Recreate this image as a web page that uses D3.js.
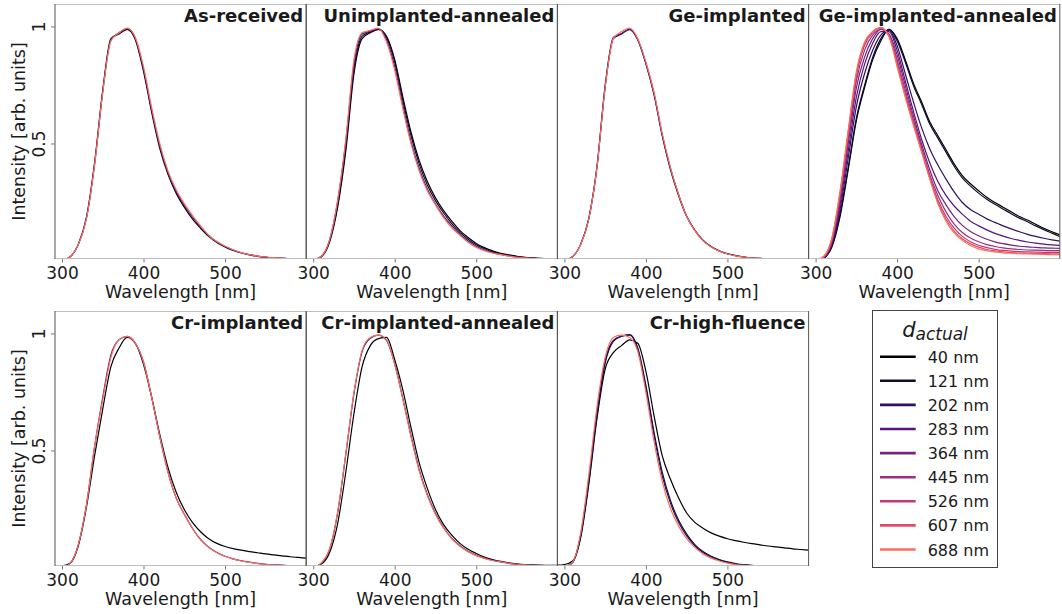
<!DOCTYPE html>
<html>
<head>
<meta charset="utf-8">
<script src="https://cdn.jsdelivr.net/npm/d3@7"></script>
<style>
  body { margin: 0; background: #fff; }
  text { font-family: "DejaVu Sans", sans-serif; fill: #1a1a1a; }
</style>
</head>
<body>
<svg id="chart" width="1062" height="614"></svg>
<script>
// wavelength grid (nm) shared by every spectrum
const wavelength = [290, 300, 310, 320, 330, 340, 350, 360, 370, 380, 390, 400, 410, 420, 430, 440,
  450, 460, 470, 480, 490, 500, 510, 520, 530, 540, 550, 560, 570, 580, 590, 600];
const thickness = [40, 121, 202, 283, 364, 445, 526, 607, 688];
const panelTitles = ['As-received', 'Unimplanted-annealed', 'Ge-implanted', 'Ge-implanted-annealed',
  'Cr-implanted', 'Cr-implanted-annealed', 'Cr-high-fluence'];
const xTicks = [300, 400, 500];
const yTicks = [0.5, 1];

// As-received
const asReceived_40  = [0, 0.003, 0.018, 0.07, 0.185, 0.42, 0.73, 0.95, 0.97, 0.99, 0.945, 0.81, 0.635, 0.48, 0.37, 0.29, 0.23, 0.18, 0.14, 0.105, 0.079, 0.06, 0.045, 0.034, 0.026, 0.02, 0.016, 0.013, 0.011, 0.01, 0.009, 0.008];
const asReceived_283 = [0, 0.003, 0.018, 0.072, 0.185, 0.415, 0.725, 0.945, 0.975, 0.993, 0.95, 0.82, 0.645, 0.49, 0.378, 0.298, 0.238, 0.188, 0.145, 0.108, 0.081, 0.062, 0.047, 0.035, 0.027, 0.021, 0.017, 0.014, 0.012, 0.01, 0.009, 0.008];
const asReceived_688 = [0, 0.003, 0.018, 0.07, 0.18, 0.41, 0.72, 0.94, 0.975, 0.995, 0.955, 0.83, 0.655, 0.5, 0.385, 0.305, 0.245, 0.195, 0.15, 0.11, 0.083, 0.064, 0.048, 0.036, 0.027, 0.021, 0.017, 0.014, 0.012, 0.01, 0.009, 0.008];

// Unimplanted-annealed
const unimplAnn_40  = [0, 0.004, 0.018, 0.08, 0.23, 0.47, 0.8, 0.95, 0.975, 0.99, 0.96, 0.86, 0.7, 0.55, 0.43, 0.34, 0.27, 0.215, 0.17, 0.13, 0.1, 0.075, 0.057, 0.043, 0.033, 0.026, 0.02, 0.016, 0.013, 0.011, 0.009, 0.008];
const unimplAnn_121 = [0, 0.004, 0.019, 0.085, 0.24, 0.49, 0.82, 0.96, 0.978, 0.99, 0.955, 0.85, 0.685, 0.535, 0.415, 0.325, 0.258, 0.205, 0.16, 0.122, 0.093, 0.069, 0.052, 0.039, 0.03, 0.024, 0.019, 0.015, 0.012, 0.01, 0.009, 0.008];
const unimplAnn_283 = [0, 0.005, 0.02, 0.088, 0.255, 0.51, 0.84, 0.97, 0.982, 0.993, 0.945, 0.83, 0.665, 0.51, 0.395, 0.308, 0.243, 0.192, 0.15, 0.114, 0.085, 0.063, 0.047, 0.036, 0.028, 0.022, 0.017, 0.014, 0.011, 0.009, 0.008, 0.007];
const unimplAnn_688 = [0, 0.005, 0.02, 0.09, 0.26, 0.52, 0.86, 0.975, 0.985, 0.995, 0.935, 0.815, 0.65, 0.5, 0.385, 0.3, 0.24, 0.185, 0.142, 0.11, 0.08, 0.058, 0.044, 0.034, 0.027, 0.021, 0.016, 0.013, 0.011, 0.009, 0.008, 0.007];

// Ge-implanted
const geImpl_40  = [0, 0.003, 0.018, 0.071, 0.182, 0.403, 0.745, 0.95, 0.97, 0.99, 0.945, 0.842, 0.71, 0.535, 0.392, 0.28, 0.19, 0.131, 0.088, 0.061, 0.043, 0.031, 0.023, 0.017, 0.013, 0.011, 0.009, 0.008, 0.007, 0.006, 0.006, 0.005];
const geImpl_283 = [0, 0.003, 0.018, 0.072, 0.183, 0.405, 0.75, 0.955, 0.972, 0.99, 0.945, 0.845, 0.715, 0.54, 0.398, 0.285, 0.192, 0.132, 0.089, 0.062, 0.043, 0.031, 0.023, 0.017, 0.013, 0.011, 0.009, 0.008, 0.007, 0.006, 0.006, 0.005];
const geImpl_688 = [0, 0.003, 0.018, 0.07, 0.18, 0.4, 0.74, 0.95, 0.98, 0.995, 0.95, 0.85, 0.72, 0.545, 0.4, 0.285, 0.19, 0.13, 0.087, 0.06, 0.042, 0.03, 0.022, 0.017, 0.013, 0.011, 0.009, 0.008, 0.007, 0.006, 0.006, 0.005];

// Ge-implanted-annealed (all nine thicknesses)
const geImplAnn_40  = [0, 0.002, 0.012, 0.06, 0.19, 0.39, 0.6, 0.74, 0.86, 0.94, 0.99, 0.95, 0.86, 0.76, 0.68, 0.595, 0.535, 0.475, 0.415, 0.365, 0.33, 0.3, 0.272, 0.25, 0.23, 0.21, 0.19, 0.175, 0.157, 0.14, 0.125, 0.111];
const geImplAnn_121 = [0, 0.002, 0.013, 0.065, 0.2, 0.4, 0.61, 0.75, 0.87, 0.95, 0.99, 0.94, 0.85, 0.75, 0.67, 0.585, 0.525, 0.465, 0.405, 0.355, 0.32, 0.29, 0.264, 0.242, 0.222, 0.202, 0.183, 0.168, 0.15, 0.134, 0.119, 0.104];
const geImplAnn_202 = [0, 0.002, 0.014, 0.07, 0.22, 0.44, 0.66, 0.8, 0.9, 0.965, 0.985, 0.92, 0.8, 0.68, 0.57, 0.48, 0.41, 0.35, 0.295, 0.25, 0.22, 0.2, 0.18, 0.165, 0.15, 0.137, 0.125, 0.114, 0.105, 0.097, 0.09, 0.085];
const geImplAnn_283 = [0, 0.002, 0.015, 0.075, 0.24, 0.47, 0.7, 0.84, 0.93, 0.98, 0.98, 0.9, 0.77, 0.64, 0.52, 0.42, 0.34, 0.28, 0.235, 0.2, 0.17, 0.15, 0.133, 0.118, 0.106, 0.096, 0.088, 0.081, 0.076, 0.072, 0.069, 0.067];
const geImplAnn_364 = [0, 0.002, 0.016, 0.08, 0.26, 0.5, 0.74, 0.87, 0.95, 0.99, 0.97, 0.88, 0.75, 0.62, 0.5, 0.39, 0.3, 0.24, 0.19, 0.152, 0.126, 0.108, 0.093, 0.082, 0.074, 0.068, 0.063, 0.06, 0.058, 0.056, 0.055, 0.054];
const geImplAnn_445 = [0, 0.003, 0.017, 0.085, 0.27, 0.52, 0.77, 0.9, 0.965, 0.99, 0.965, 0.86, 0.73, 0.605, 0.485, 0.37, 0.28, 0.21, 0.158, 0.122, 0.098, 0.082, 0.07, 0.062, 0.056, 0.052, 0.049, 0.047, 0.046, 0.045, 0.044, 0.044];
const geImplAnn_526 = [0, 0.003, 0.018, 0.09, 0.28, 0.54, 0.79, 0.92, 0.975, 0.995, 0.96, 0.85, 0.715, 0.595, 0.475, 0.36, 0.262, 0.19, 0.14, 0.105, 0.082, 0.067, 0.057, 0.05, 0.045, 0.042, 0.04, 0.039, 0.038, 0.037, 0.037, 0.037];
const geImplAnn_607 = [0, 0.003, 0.019, 0.095, 0.29, 0.55, 0.8, 0.93, 0.98, 0.997, 0.96, 0.84, 0.705, 0.585, 0.47, 0.355, 0.252, 0.178, 0.128, 0.095, 0.073, 0.059, 0.049, 0.043, 0.039, 0.036, 0.034, 0.033, 0.032, 0.032, 0.031, 0.031];
const geImplAnn_688 = [0, 0.003, 0.02, 0.1, 0.3, 0.56, 0.81, 0.935, 0.98, 0.997, 0.96, 0.83, 0.7, 0.58, 0.465, 0.35, 0.245, 0.17, 0.12, 0.088, 0.066, 0.052, 0.044, 0.039, 0.035, 0.033, 0.031, 0.03, 0.029, 0.028, 0.027, 0.027];

// Cr-implanted
const crImpl_40  = [0.005, 0.008, 0.02, 0.095, 0.26, 0.48, 0.68, 0.86, 0.94, 0.985, 0.96, 0.87, 0.73, 0.57, 0.43, 0.325, 0.25, 0.195, 0.155, 0.125, 0.105, 0.092, 0.083, 0.076, 0.07, 0.065, 0.06, 0.056, 0.052, 0.048, 0.045, 0.042];
const crImpl_283 = [0, 0.003, 0.02, 0.1, 0.27, 0.52, 0.73, 0.91, 0.975, 0.99, 0.96, 0.88, 0.73, 0.56, 0.41, 0.3, 0.23, 0.17, 0.122, 0.089, 0.066, 0.05, 0.039, 0.031, 0.025, 0.02, 0.016, 0.014, 0.012, 0.01, 0.009, 0.008];
const crImpl_688 = [0, 0.003, 0.02, 0.1, 0.27, 0.52, 0.72, 0.9, 0.975, 0.99, 0.96, 0.88, 0.73, 0.56, 0.41, 0.3, 0.23, 0.17, 0.12, 0.088, 0.065, 0.05, 0.038, 0.03, 0.024, 0.019, 0.016, 0.013, 0.011, 0.01, 0.009, 0.008];

// Cr-implanted-annealed
const crImplAnn_40  = [0.006, 0.006, 0.017, 0.065, 0.19, 0.41, 0.66, 0.86, 0.95, 0.98, 0.985, 0.89, 0.76, 0.6, 0.45, 0.34, 0.25, 0.185, 0.14, 0.105, 0.08, 0.062, 0.047, 0.036, 0.028, 0.022, 0.018, 0.015, 0.013, 0.012, 0.011, 0.011];
const crImplAnn_202 = [0, 0.003, 0.021, 0.078, 0.235, 0.485, 0.745, 0.925, 0.982, 0.995, 0.972, 0.872, 0.724, 0.565, 0.42, 0.314, 0.233, 0.172, 0.127, 0.095, 0.071, 0.054, 0.042, 0.033, 0.026, 0.02, 0.016, 0.013, 0.011, 0.009, 0.008, 0.007];
const crImplAnn_688 = [0, 0.003, 0.022, 0.08, 0.24, 0.49, 0.75, 0.93, 0.985, 0.995, 0.975, 0.87, 0.72, 0.56, 0.415, 0.31, 0.23, 0.17, 0.125, 0.093, 0.07, 0.053, 0.041, 0.032, 0.026, 0.02, 0.016, 0.013, 0.011, 0.009, 0.008, 0.007];

// Cr-high-fluence
const crHigh_40  = [0.012, 0.015, 0.03, 0.13, 0.36, 0.64, 0.85, 0.92, 0.95, 0.975, 0.96, 0.84, 0.65, 0.48, 0.38, 0.3, 0.235, 0.195, 0.17, 0.15, 0.136, 0.125, 0.117, 0.11, 0.104, 0.099, 0.094, 0.09, 0.086, 0.082, 0.079, 0.076];
const crHigh_121 = [0, 0.004, 0.023, 0.138, 0.37, 0.655, 0.875, 0.968, 0.99, 0.997, 0.94, 0.78, 0.58, 0.41, 0.29, 0.205, 0.145, 0.1, 0.07, 0.05, 0.036, 0.026, 0.019, 0.014, 0.011, 0.009, 0.007, 0.006, 0.005, 0.005, 0.004, 0.004];
const crHigh_202 = [0, 0.004, 0.024, 0.142, 0.38, 0.665, 0.885, 0.972, 0.99, 0.995, 0.935, 0.77, 0.565, 0.395, 0.278, 0.195, 0.137, 0.095, 0.066, 0.047, 0.034, 0.024, 0.017, 0.013, 0.01, 0.008, 0.007, 0.006, 0.005, 0.005, 0.004, 0.004];
const crHigh_688 = [0, 0.004, 0.025, 0.15, 0.4, 0.69, 0.9, 0.985, 0.995, 0.985, 0.925, 0.75, 0.54, 0.37, 0.255, 0.18, 0.125, 0.088, 0.06, 0.042, 0.03, 0.021, 0.015, 0.011, 0.009, 0.007, 0.006, 0.005, 0.005, 0.004, 0.004, 0.004];

// table of which spectra go in which panel
const panelSeries = [
  [[40, asReceived_40], [283, asReceived_283], [688, asReceived_688]],
  [[40, unimplAnn_40], [121, unimplAnn_121], [283, unimplAnn_283], [688, unimplAnn_688]],
  [[40, geImpl_40], [283, geImpl_283], [688, geImpl_688]],
  [[40, geImplAnn_40], [121, geImplAnn_121], [202, geImplAnn_202], [283, geImplAnn_283], [364, geImplAnn_364],
   [445, geImplAnn_445], [526, geImplAnn_526], [607, geImplAnn_607], [688, geImplAnn_688]],
  [[40, crImpl_40], [283, crImpl_283], [688, crImpl_688]],
  [[40, crImplAnn_40], [202, crImplAnn_202], [688, crImplAnn_688]],
  [[40, crHigh_40], [121, crHigh_121], [202, crHigh_202], [688, crHigh_688]]
];

const svg = d3.select('#chart');
const pw = 251.2, ph = 255;
const left0 = 55, tops = [4, 311];

const color = d3.scaleOrdinal()
  .domain(thickness)
  .range(thickness.map((d, i) => d3.interpolateMagma(i * 0.7 / 8)));

const x = d3.scaleLinear().domain([291.4, 599.6]).range([0, pw]);
const y = d3.scaleLinear().domain([0.0085, 1.098]).range([ph, 0]);

const line = d3.line()
  .x(d => x(d[0]))
  .y(d => y(d[1]))
  .curve(d3.curveMonotoneX);

panelTitles.forEach((title, p) => {
  let col = p < 4 ? p : p - 4,
    row = p < 4 ? 0 : 1,
    g = svg.append('g').attr('transform', `translate(${left0 + col * pw},${tops[row]})`);

  g.append('clipPath').attr('id', 'clip' + p)
    .append('rect').attr('width', pw).attr('height', ph);

  let plot = g.append('g').attr('clip-path', `url(#clip${p})`);
  panelSeries[p].forEach(s => {
    plot.append('path')
      .attr('d', line(wavelength.map((w, i) => [w, s[1][i]])))
      .attr('fill', 'none')
      .attr('stroke', color(s[0]))
      .attr('stroke-width', 1.2);
  });

  // frame: light top/bottom, darker sides
  g.append('line').attr('x1', 0).attr('x2', pw).attr('y1', 0.5).attr('y2', 0.5).attr('stroke', '#bdbdbd');
  g.append('line').attr('x1', 0).attr('x2', pw).attr('y1', ph - 0.5).attr('y2', ph - 0.5).attr('stroke', '#bdbdbd');
  g.append('line').attr('x1', 0).attr('x2', 0).attr('y1', 0).attr('y2', ph).attr('stroke', '#555');
  g.append('line').attr('x1', pw).attr('x2', pw).attr('y1', 0).attr('y2', ph).attr('stroke', '#555');

  // x axis
  let xa = g.append('g').attr('transform', `translate(0,${ph})`)
    .call(d3.axisBottom(x).tickValues(xTicks).tickSize(3.5).tickPadding(4));
  xa.select('.domain').remove();
  xa.selectAll('line').attr('stroke', '#777');
  xa.selectAll('text').attr('font-size', 17).attr('font-family', '"DejaVu Sans", sans-serif').attr('fill', '#1a1a1a');

  g.append('text')
    .attr('x', pw / 2).attr('y', ph + 39)
    .attr('text-anchor', 'middle').attr('font-size', 17.5)
    .text('Wavelength [nm]');

  g.append('text')
    .attr('x', pw - 3).attr('y', 18)
    .attr('text-anchor', 'end').attr('font-size', 18).attr('font-weight', 'bold')
    .attr('fill', '#000')
    .text(title);

  if (col === 0) {
    yTicks.forEach(t => {
      g.append('line').attr('x1', -4).attr('x2', 0).attr('y1', y(t)).attr('y2', y(t)).attr('stroke', '#777');
      g.append('text')
        .attr('transform', `translate(-10,${y(t)}) rotate(-90)`)
        .attr('text-anchor', 'middle').attr('font-size', 17)
        .text(t);
    });
    g.append('text')
      .attr('transform', `translate(-30,${ph / 2}) rotate(-90)`)
      .attr('text-anchor', 'middle').attr('font-size', 17.5)
      .text('Intensity [arb. units]');
  }
});

// legend
const lg = svg.append('g').attr('transform', 'translate(872,310)');
lg.append('rect').attr('x', 0.5).attr('y', 0.5).attr('width', 125).attr('height', 257)
  .attr('fill', '#fff').attr('stroke', '#444');

let lt = lg.append('text').attr('x', 63).attr('y', 27).attr('text-anchor', 'middle').attr('font-style', 'italic');
lt.append('tspan').attr('font-size', 21).text('d');
lt.append('tspan').attr('font-size', 17).attr('dy', 3).text('actual');

thickness.forEach((d, i) => {
  let yy = 46.7 + i * 24.1;
  lg.append('line').attr('x1', 8).attr('x2', 43.7).attr('y1', yy).attr('y2', yy)
    .attr('stroke', color(d)).attr('stroke-width', 2.6);
  lg.append('text').attr('x', 55.7).attr('y', yy + 6).attr('font-size', 16).text(d + ' nm');
});
</script>
</body>
</html>
